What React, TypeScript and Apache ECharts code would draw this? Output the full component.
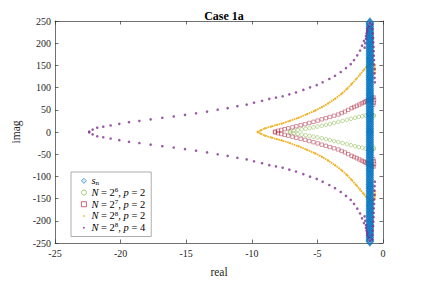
import React, { useEffect, useRef } from "react";
import * as echarts from "echarts";

const SERIF = "Liberation Serif";

// s_n sample points (real part constant, imaginary parts of the upper half)
const SN_RE = -1.0;
const SN_IM = [2.5, 7.5, 12.5, 17.5, 22.5, 27.5, 32.5, 37.5, 42.5, 47.5, 52.5, 57.5, 62.5, 67.5, 72.5, 77.5, 82.5, 87.5, 92.5, 97.5, 102.5, 107.5, 112.5, 117.5, 122.5, 127.5, 132.5, 137.5, 142.5, 147.5, 152.5, 157.5, 162.5, 167.5, 172.5, 177.5, 182.5, 187.5, 192.5, 197.5, 202.5, 207.5, 212.5, 217.5, 222.5, 227.5, 232.5, 237.5, 242.5, 246];

// N = 2^6, p = 2 (upper half, conjugates mirrored)
const G6_RE = [-7.09, -6.8, -6.5, -6.2, -5.9, -5.6, -5.3, -5.0, -4.67, -4.35, -4.05, -3.73, -3.41, -3.08, -2.75, -2.44, -2.13, -1.85, -1.58, -1.32, -1.08, -0.85, -0.7, -0.72];
const G6_IM = [1.5, 3, 4.5, 6, 7.3, 8.8, 10.5, 12.2, 14, 16, 18.2, 20.4, 22.7, 25, 27.4, 29.7, 32, 34, 35.6, 37.2, 38.8, 40, 38, 35];

// N = 2^7, p = 2
const R7_RE = [-8.23, -8.0, -7.75, -7.5, -7.22, -6.9, -6.6, -6.27, -5.94, -5.62, -5.3, -4.98, -4.67, -4.36, -4.05, -3.73, -3.41, -3.15, -2.9, -2.65, -2.39, -2.2, -2.0, -1.8, -1.62, -1.47, -1.35, -1.23, -1.12, -1.0, -0.9, -0.8, -0.72, -0.68, -0.7, -0.75];
const R7_IM = [1, 2.8, 4.5, 6.3, 8.3, 10.5, 13, 15.3, 17.7, 20.3, 23, 25.7, 28.5, 31.2, 34, 36.7, 39.4, 42.7, 46, 49.8, 53.7, 56.3, 59, 61.8, 64.5, 66.5, 68.5, 70.2, 72, 73.6, 75, 76.5, 78, 72, 66, 61];

// N = 2^8, p = 2
const Y8_RE = [-9.55, -9.3, -8.99, -8.5, -8.1, -7.72, -7.1, -6.45, -5.8, -5.18, -4.65, -4.17, -3.65, -3.15, -2.75, -2.39, -2.05, -1.75, -1.48, -1.24, -1.0, -0.75, -0.65, -0.6, -0.62];
const Y8_IM = [0.5, 4, 8.3, 12.5, 16, 19, 25, 32, 40, 48, 56, 64.5, 75, 86, 97, 108, 119, 129.5, 139, 147.6, 152, 155, 150, 141, 132];

// N = 2^8, p = 4
const P4_RE = [-22.39, -22.13, -21.78, -21.32, -20.76, -20.1, -19.36, -18.57, -17.71, -16.82, -15.95, -15.09, -14.25, -13.41, -12.6, -11.84, -11.1, -10.39, -9.83, -9.22, -8.67, -8.16, -7.65, -7.14, -6.63, -6.07, -5.56, -5.05, -4.6, -4.09, -3.66, -3.22, -2.82, -2.46, -2.21, -1.96, -1.75, -1.6, -1.45, -1.3, -1.2, -1.09, -1.0];
const P4_IM = [1, 5.4, 9.7, 11.9, 14.7, 18.4, 22, 24.9, 28.5, 32, 35, 38.5, 42.2, 45.9, 50.2, 53.7, 58, 61.7, 66, 70.3, 74.7, 77.5, 80.5, 84.8, 89, 94.8, 100.6, 105.6, 112, 119.5, 126.6, 135, 144, 152.6, 162, 172.7, 183.5, 194.4, 205, 216, 227, 237.7, 245];
const P4_EDGE_RE = [-0.62, -0.64, -0.66, -0.65, -0.67, -0.68, -0.7, -0.71, -0.72, -0.74, -0.75, -0.78, -0.8, -0.83, -1.4, -1.35, -1.3, -1.25, -1.2];
const P4_EDGE_IM = [112, 122, 132, 142, 152, 162, 172, 182, 192, 202, 212, 222, 232, 242, 190, 200, 210, 222, 232];

function conj(re: number[], im: number[]): number[][] {
  const up = re.map((x, i) => [x, im[i]]);
  const lo = re.map((x, i) => [x, -im[i]]);
  return up.concat(lo);
}
function path(re: number[], im: number[]): number[][] {
  const lo = re.map((x, i) => [x, -im[i]]).reverse();
  const up = re.map((x, i) => [x, im[i]]);
  return lo.concat(up);
}

const NAMES = ["sn", "g6", "r7", "y8", "p4"];
const LABELS: Record<string, string> = {
  sn: "{i|s}{sub|n}",
  g6: "{i|N} = 2{sup|6}, {i|p} = 2",
  r7: "{i|N} = 2{sup|7}, {i|p} = 2",
  y8: "{i|N} = 2{sup|8}, {i|p} = 2",
  p4: "{i|N} = 2{sup|8}, {i|p} = 4",
};

const CLEAR = "rgba(255,255,255,0)";

export default function App() {
  const ref = useRef<HTMLDivElement>(null);
  useEffect(() => {
    if (!ref.current) return;
    const chart = echarts.init(ref.current, null, { renderer: "svg" });
    const axisLine = { show: true, onZero: false, lineStyle: { color: "#333", width: 0.7 } };
    const axisTick = { show: true, inside: true, length: 3.5, lineStyle: { color: "#333", width: 0.7 } };
    const label = { fontFamily: SERIF, fontSize: 10, color: "#262626" };
    const snData = SN_IM.map((y) => [SN_RE, y]).concat(SN_IM.map((y) => [SN_RE, -y]));
    const legendData = NAMES.map((n) =>
      n === "y8" || n === "p4"
        ? { name: n, icon: "path://M0,0M10,10M3,5a2,2 0 1,0 4,0a2,2 0 1,0 -4,0z" }
        : { name: n }
    );
    chart.setOption({
      animation: false,
      backgroundColor: "#fff",
      title: {
        text: "Case 1a",
        left: 219,
        top: 5,
        textAlign: "center",
        textStyle: { fontFamily: SERIF, fontSize: 12, fontWeight: "bold", color: "#000" },
      },
      grid: { left: 55, right: 41, top: 21, bottom: 31 },
      xAxis: [
        {
          type: "value", min: -25, max: 0, interval: 5, position: "bottom",
          axisLine, axisTick, splitLine: { show: false },
          axisLabel: { ...label, margin: 5 },
          name: "real", nameLocation: "middle", nameGap: 23,
          nameTextStyle: { fontFamily: SERIF, fontSize: 11.5, color: "#262626" },
        },
        {
          type: "value", min: -25, max: 0, interval: 5, position: "top",
          axisLine, axisTick, splitLine: { show: false }, axisLabel: { show: false },
        },
      ],
      yAxis: [
        {
          type: "value", min: -250, max: 250, interval: 50, position: "left",
          axisLine, axisTick, splitLine: { show: false },
          axisLabel: { ...label, margin: 4 },
          name: "imag", nameLocation: "middle", nameGap: 24, nameRotate: 90,
          nameTextStyle: { fontFamily: SERIF, fontSize: 11.5, color: "#262626" },
        },
        {
          type: "value", min: -250, max: 250, interval: 50, position: "right",
          axisLine, axisTick, splitLine: { show: false }, axisLabel: { show: false },
        },
      ],
      legend: {
        data: legendData,
        orient: "vertical",
        left: 71,
        top: 172,
        itemWidth: 5,
        itemHeight: 5,
        itemGap: 0,
        padding: [3, 6, 3, 10],
        backgroundColor: "#fff",
        borderColor: "#999",
        borderWidth: 0.8,
        selectedMode: false,
        itemStyle: { borderWidth: 0.8 },
        formatter: (n: string) => LABELS[n],
        textStyle: {
          fontFamily: SERIF, fontSize: 10.5, lineHeight: 11.7, color: "#000",
          rich: {
            i: { fontFamily: SERIF, fontStyle: "italic", fontSize: 10.5, lineHeight: 11.7 },
            sup: { fontFamily: SERIF, fontSize: 7, lineHeight: 6, verticalAlign: "top" },
            sub: { fontFamily: SERIF, fontSize: 7, lineHeight: 6, verticalAlign: "bottom" },
          },
        },
      },
      series: [
        {
          name: "g6", type: "scatter", symbol: "circle", symbolSize: 3.6,
          itemStyle: { color: CLEAR, borderColor: "#77AC30", borderWidth: 0.6 }, data: conj(G6_RE, G6_IM), z: 3,
        },
        {
          name: "r7", type: "scatter", symbol: "rect", symbolSize: 3.4,
          itemStyle: { color: CLEAR, borderColor: "#A2142F", borderWidth: 0.55 }, data: conj(R7_RE, R7_IM), z: 3,
        },
        {
          name: "y8line", type: "line", data: path(Y8_RE, Y8_IM), showSymbol: false, symbol: "none",
          lineStyle: { color: "#EDB120", width: 1.8, type: [1.6, 0.7] }, z: 3, silent: true,
        },
        {
          name: "y8", type: "scatter", symbol: "circle", symbolSize: 2.2,
          itemStyle: { color: "#EDB120" }, data: conj(Y8_RE, Y8_IM), z: 3,
        },
        {
          name: "sn", type: "scatter", symbol: "diamond", symbolSize: [7, 9],
          itemStyle: { color: "rgba(80,160,225,0.22)", borderColor: "#0072BD", borderWidth: 1.3 }, data: snData, z: 4,
        },
        {
          name: "p4", type: "scatter", symbol: "circle", symbolSize: 2.6,
          itemStyle: { color: "#7E2F8E" },
          data: conj(P4_RE, P4_IM).concat(conj(P4_EDGE_RE, P4_EDGE_IM)), z: 5,
        },
      ],
    });
    return () => chart.dispose();
  }, []);
  return (
    <div
      ref={ref}
      style={{ position: "fixed", left: 0, top: 0, width: 424, height: 283 }}
    />
  );
}
